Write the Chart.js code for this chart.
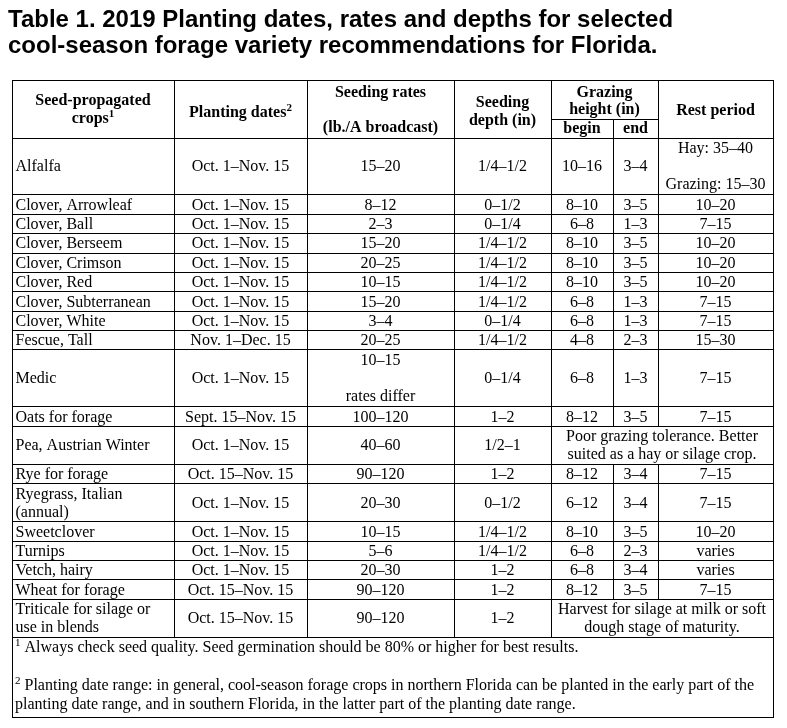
<!DOCTYPE html>
<html>
<head>
<meta charset="utf-8">
<script src="https://cdn.jsdelivr.net/npm/chart.js@4.4.1/dist/chart.umd.min.js"></script>
<style>
    html, body { margin: 0; padding: 0; background: #ffffff; }
    canvas { display: block; }
</style>
</head>
<body>
<canvas id="chart-forage-table" width="787" height="728"></canvas>
<script>
/**
 * Table 1 - cool-season forage recommendations, drawn on a Chart.js canvas
 */
const titleLines = [
    'Table 1. 2019 Planting dates, rates and depths for selected',
    'cool-season forage variety recommendations for Florida.'
];

const crops = [
    'Alfalfa', 'Clover, Arrowleaf', 'Clover, Ball', 'Clover, Berseem', 'Clover, Crimson',
    'Clover, Red', 'Clover, Subterranean', 'Clover, White', 'Fescue, Tall', 'Medic',
    'Oats for forage', 'Pea, Austrian Winter', 'Rye for forage', ['Ryegrass, Italian', '(annual)'],
    'Sweetclover', 'Turnips', 'Vetch, hairy', 'Wheat for forage', ['Triticale for silage or', 'use in blends']
];
const plantingDates = [
    'Oct. 1–Nov. 15', 'Oct. 1–Nov. 15', 'Oct. 1–Nov. 15', 'Oct. 1–Nov. 15', 'Oct. 1–Nov. 15',
    'Oct. 1–Nov. 15', 'Oct. 1–Nov. 15', 'Oct. 1–Nov. 15', 'Nov. 1–Dec. 15', 'Oct. 1–Nov. 15',
    'Sept. 15–Nov. 15', 'Oct. 1–Nov. 15', 'Oct. 15–Nov. 15', 'Oct. 1–Nov. 15',
    'Oct. 1–Nov. 15', 'Oct. 1–Nov. 15', 'Oct. 1–Nov. 15', 'Oct. 15–Nov. 15', 'Oct. 15–Nov. 15'
];
const seedingRates = [
    '15–20', '8–12', '2–3', '15–20', '20–25', '10–15', '15–20', '3–4', '20–25',
    ['10–15', '', 'rates differ'], '100–120', '40–60', '90–120', '20–30',
    '10–15', '5–6', '20–30', '90–120', '90–120'
];
const seedingDepth = [
    '1/4–1/2', '0–1/2', '0–1/4', '1/4–1/2', '1/4–1/2', '1/4–1/2', '1/4–1/2', '0–1/4', '1/4–1/2',
    '0–1/4', '1–2', '1/2–1', '1–2', '0–1/2', '1/4–1/2', '1/4–1/2', '1–2', '1–2', '1–2'
];
const grazeBegin = [
    '10–16', '8–10', '6–8', '8–10', '8–10', '8–10', '6–8', '6–8', '4–8',
    '6–8', '8–12', null, '8–12', '6–12', '8–10', '6–8', '6–8', '8–12', null
];
const grazeEnd = [
    '3–4', '3–5', '1–3', '3–5', '3–5', '3–5', '1–3', '1–3', '2–3',
    '1–3', '3–5', null, '3–4', '3–4', '3–5', '2–3', '3–4', '3–5', null
];
const restPeriod = [
    ['Hay: 35–40', '', 'Grazing: 15–30'], '10–20', '7–15', '10–20', '10–20', '10–20', '7–15', '7–15', '15–30',
    '7–15', '7–15', null, '7–15', '7–15', '10–20', 'varies', 'varies', '7–15', null
];
// merged grazing/rest notes (only where the grazing cells are empty)
const grazingNotes = [
    null, null, null, null, null, null, null, null, null, null, null,
    ['Poor grazing tolerance. Better', 'suited as a hay or silage crop.'],
    null, null, null, null, null, null,
    ['Harvest for silage at milk or soft', 'dough stage of maturity.']
];
const footnotes = [
    { sup: '1', text: ' Always check seed quality. Seed germination should be 80% or higher for best results.' },
    { sup: '2', text: ' Planting date range: in general, cool-season forage crops in northern Florida can be planted in the early part of the' },
    { sup: '', text: 'planting date range, and in southern Florida, in the latter part of the planting date range.' }
];

// layout (pixels on the x / y scales)
const colEdges = [12, 174, 307, 454, 551, 613, 658, 773];
const tableTop = 80;
const headerHeight = 57.5;
const serif = "'Liberation Serif', 'Times New Roman', serif";

function lineCount(v) { return Array.isArray(v) ? v.length : 1; }
function rowHeight(n) { return 19.4 + (n - 1) * 18.7; }

const tablePlugin = {
    id: 'forageTable',
    afterDraw(chart) {
        const { ctx, scales: { x, y } } = chart;
        const X = v => x.getPixelForValue(v);
        const Y = v => y.getPixelForValue(v);

        ctx.save();
        ctx.fillStyle = '#000000';
        ctx.strokeStyle = '#000000';
        ctx.lineWidth = 1;

        // title
        ctx.font = "bold 24px 'Liberation Sans', Arial, sans-serif";
        ctx.textAlign = 'left';
        ctx.textBaseline = 'alphabetic';
        ctx.fillText(titleLines[0], X(8), Y(27));
        ctx.fillText(titleLines[1], X(8), Y(53));

        const hLine = (x1, x2, yv) => {
            const py = Math.round(Y(yv)) + 0.5;
            ctx.beginPath(); ctx.moveTo(Math.round(X(x1)), py); ctx.lineTo(Math.round(X(x2)) + 1, py); ctx.stroke();
        };
        const vLine = (xv, y1, y2) => {
            const px = Math.round(X(xv)) + 0.5;
            ctx.beginPath(); ctx.moveTo(px, Math.round(Y(y1))); ctx.lineTo(px, Math.round(Y(y2)) + 1); ctx.stroke();
        };

        // text with optional superscript, aligned about xv
        const supText = (main, sup, xv, base, bold, align) => {
            const f = bold ? 'bold ' : '';
            ctx.font = f + '16px ' + serif;
            const wMain = ctx.measureText(main).width;
            ctx.font = f + '11px ' + serif;
            const wSup = sup ? ctx.measureText(sup).width : 0;
            let left = X(xv);
            if (align === 'center') left -= (wMain + wSup) / 2;
            ctx.textAlign = 'left';
            ctx.font = f + '16px ' + serif;
            ctx.fillText(main, left, Y(base));
            if (sup) {
                ctx.font = f + '11px ' + serif;
                ctx.fillText(sup, left + wMain, Y(base - 6));
            }
        };

        const cell = (value, c0, c1, top, h, align) => {
            if (value === null || value === undefined) return;
            const lines = Array.isArray(value) ? value : [value];
            const n = lines.length;
            ctx.font = '16px ' + serif;
            ctx.textBaseline = 'alphabetic';
            lines.forEach((t, i) => {
                const base = top + h / 2 + 5.5 + (i - (n - 1) / 2) * 18;
                if (align === 'left') {
                    ctx.textAlign = 'left';
                    ctx.fillText(t, X(colEdges[c0] + 3.5), Y(base));
                } else {
                    ctx.textAlign = 'center';
                    ctx.fillText(t, X((colEdges[c0] + colEdges[c1]) / 2), Y(base));
                }
            });
        };

        // header
        const hb = tableTop + headerHeight;
        const mid = (a, b) => (colEdges[a] + colEdges[b]) / 2;
        ctx.textBaseline = 'alphabetic';
        ctx.font = 'bold 16px ' + serif;
        ctx.textAlign = 'center';
        ctx.fillText('Seed-propagated', X(mid(0, 1)), Y(105));
        supText('crops', '1', mid(0, 1), 123, true, 'center');
        supText('Planting dates', '2', mid(1, 2), 116.5, true, 'center');
        ctx.font = 'bold 16px ' + serif;
        ctx.textAlign = 'center';
        ctx.fillText('Seeding rates', X(mid(2, 3)), Y(96.5));
        ctx.fillText('(lb./A broadcast)', X(mid(2, 3)), Y(132));
        ctx.fillText('Seeding', X(mid(3, 4)), Y(107));
        ctx.fillText('depth (in)', X(mid(3, 4)), Y(125));
        ctx.fillText('Grazing', X(mid(4, 6)), Y(97));
        ctx.fillText('height (in)', X(mid(4, 6)), Y(114));
        ctx.fillText('begin', X(mid(4, 5)), Y(133));
        ctx.fillText('end', X(mid(5, 6)), Y(133));
        ctx.fillText('Rest period', X(mid(6, 7)), Y(115));

        // body rows
        let top = hb;
        const bounds = [tableTop, hb];
        const mergedRows = [];
        crops.forEach((crop, i) => {
            const n = Math.max(lineCount(crop), lineCount(plantingDates[i]), lineCount(seedingRates[i]),
                lineCount(seedingDepth[i]), lineCount(restPeriod[i]), grazingNotes[i] ? grazingNotes[i].length : 1);
            const h = rowHeight(n);
            cell(crop, 0, 1, top, h, 'left');
            cell(plantingDates[i], 1, 2, top, h);
            cell(seedingRates[i], 2, 3, top, h);
            cell(seedingDepth[i], 3, 4, top, h);
            if (grazingNotes[i]) {
                cell(grazingNotes[i], 4, 7, top, h);
                mergedRows.push([top, top + h]);
            } else {
                cell(grazeBegin[i], 4, 5, top, h);
                cell(grazeEnd[i], 5, 6, top, h);
                cell(restPeriod[i], 6, 7, top, h);
            }
            top += h;
            bounds.push(top);
        });
        const bodyBottom = top;
        const tableBottom = bodyBottom + 80;

        // footnotes
        ctx.textBaseline = 'alphabetic';
        const fnBase = [bodyBottom + 14.5, bodyBottom + 52.5, bodyBottom + 71.5];
        footnotes.forEach((fn, i) => {
            if (fn.sup) {
                ctx.font = '11px ' + serif;
                ctx.textAlign = 'left';
                ctx.fillText(fn.sup, X(15), Y(fnBase[i] - 6));
                const w = ctx.measureText(fn.sup).width;
                ctx.font = '16px ' + serif;
                ctx.fillText(fn.text, X(15 + w), Y(fnBase[i]));
            } else {
                ctx.font = '16px ' + serif;
                ctx.textAlign = 'left';
                ctx.fillText(fn.text, X(15), Y(fnBase[i]));
            }
        });

        // grid lines
        bounds.forEach(b => hLine(colEdges[0], colEdges[7], b));
        hLine(colEdges[0], colEdges[7], tableBottom);
        hLine(colEdges[4], colEdges[6], tableTop + 38.5);
        vLine(colEdges[0], tableTop, tableBottom);
        vLine(colEdges[7], tableTop, tableBottom);
        [1, 2, 3, 4].forEach(c => vLine(colEdges[c], tableTop, bodyBottom));
        // begin/end and rest dividers break around merged rows
        const segs = (from) => {
            let s = from;
            mergedRows.forEach(([a, b]) => { if (a > s) { out.push([s, a]); } s = b; });
            if (s < bodyBottom) out.push([s, bodyBottom]);
        };
        let out = [];
        segs(tableTop + 38.5);
        out.forEach(([a, b]) => vLine(colEdges[5], a, b));
        out = [];
        segs(tableTop);
        out.forEach(([a, b]) => vLine(colEdges[6], a, b));

        ctx.restore();
    }
};

const ctx = document.getElementById('chart-forage-table');
new Chart(ctx, {
    type: 'scatter',
    data: { datasets: [] },
    options: {
        responsive: false,
        animation: false,
        events: [],
        layout: { padding: 0 },
        plugins: { legend: { display: false }, tooltip: { enabled: false } },
        scales: {
            x: { type: 'linear', min: 0, max: 787, display: false },
            y: { type: 'linear', min: 0, max: 728, reverse: true, display: false }
        }
    },
    plugins: [tablePlugin]
});
</script>
</body>
</html>
